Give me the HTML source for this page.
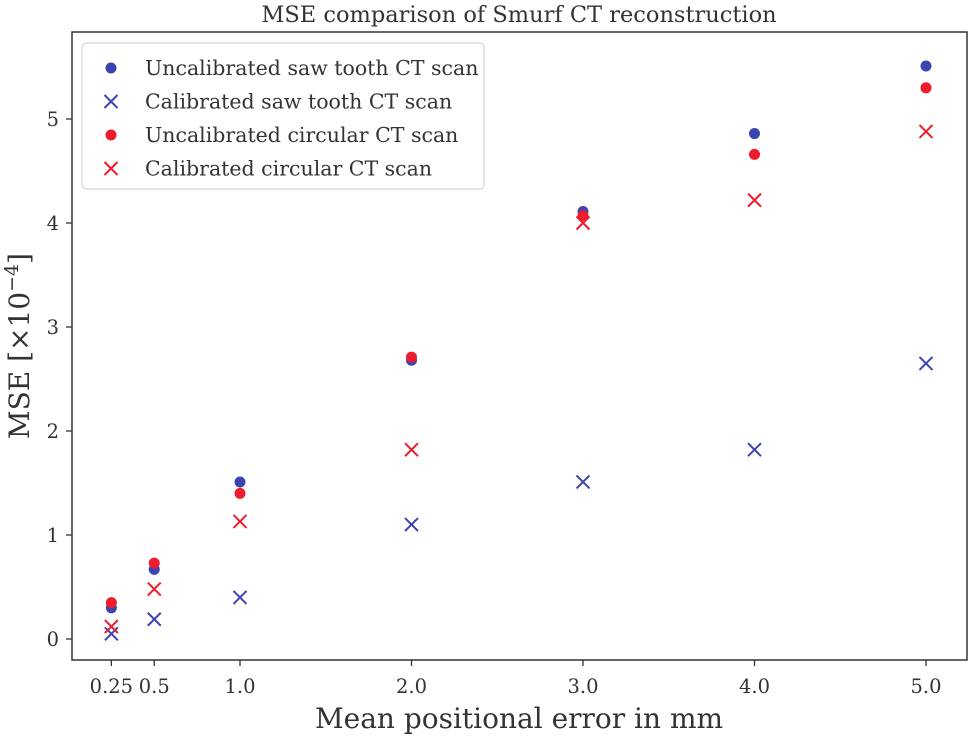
<!DOCTYPE html>
<html><head><meta charset="utf-8"><style>
body{margin:0;background:#fff}
svg text{font-family:"DejaVu Serif","Liberation Serif",serif;fill:#333}
</style></head><body>
<svg id="chart" width="972" height="739" xmlns="http://www.w3.org/2000/svg"></svg>
<script>
const xCategories=[0.25,0.5,1.0,2.0,3.0,4.0,5.0];
const xTickLabels=["0.25","0.5","1.0","2.0","3.0","4.0","5.0"];
const yTicks=[0,1,2,3,4,5];
const uncalSaw=[0.30,0.67,1.51,2.68,4.11,4.86,5.51];
const calSaw=[0.05,0.19,0.40,1.10,1.51,1.82,2.65];
const uncalCirc=[0.35,0.73,1.40,2.71,4.07,4.66,5.30];
const calCirc=[0.12,0.48,1.13,1.82,4.00,4.22,4.88];
const seriesNames=["Uncalibrated saw tooth CT scan","Calibrated saw tooth CT scan","Uncalibrated circular CT scan","Calibrated circular CT scan"];
const BLUE="#3c44b0",RED="#ee1c2c";
const L=72,R=967,T=32,B=660;
const xs=v=>240+(v-1)*171.5;
const ys=v=>639-v*104;
const svg=document.getElementById('chart');
const NS="http://www.w3.org/2000/svg";
function mk(tag,attrs,parent){const e=document.createElementNS(NS,tag);for(const k in attrs)e.setAttribute(k,attrs[k]);(parent||svg).appendChild(e);return e;}
let frame=mk('rect',{x:L,y:T,width:R-L,height:B-T,fill:'none',stroke:'#333','stroke-width':1.5});


let title=mk('text',{x:519,y:22,'text-anchor':'middle','font-size':22.5});
title.textContent="MSE comparison of Smurf CT reconstruction";


xCategories.forEach((v,i)=>{
  const x=xs(v);
  const t=mk('line',{x1:x,x2:x,y1:B,y2:B+6,stroke:'#333','stroke-width':1.3});
  
  
  const l=mk('text',{x:x,y:B+33,'text-anchor':'middle','font-size':19.5});
  l.textContent=xTickLabels[i];
  
  
});
yTicks.forEach(v=>{
  const y=ys(v);
  const t=mk('line',{x1:L-6,x2:L,y1:y,y2:y,stroke:'#333','stroke-width':1.3});
  
  
  const l=mk('text',{x:L-13,y:y+7,'text-anchor':'end','font-size':19.5});
  l.textContent=String(v);
  
  
});
let xt=mk('text',{x:519,y:728,'text-anchor':'middle','font-size':28});
xt.textContent="Mean positional error in mm";


let yt=mk('text',{x:0,y:0,'text-anchor':'middle','font-size':28,transform:'translate(29,346) rotate(-90)'});
yt.innerHTML='MSE [×10<tspan dy="-11" font-size="19">−4</tspan><tspan dy="11">]</tspan>';


function dot(x,y,c,g){const e=mk('circle',{cx:x,cy:y,r:5.5,fill:c},g);}
function cross(x,y,c,g){const s=6.5;const e=mk('path',{d:`M${x-s},${y-s}L${x+s},${y+s}M${x-s},${y+s}L${x+s},${y-s}`,stroke:c,'stroke-width':2,fill:'none'},g);}
const series=[[uncalSaw,BLUE,dot,'series-uncalibrated-saw-tooth'],[calSaw,BLUE,cross,'series-calibrated-saw-tooth'],[uncalCirc,RED,dot,'series-uncalibrated-circular'],[calCirc,RED,cross,'series-calibrated-circular']];
series.forEach(([vals,c,f,n])=>{
  const g=mk('g',{});
  
  
  vals.forEach((v,i)=>f(xs(xCategories[i]),ys(v),c,g));
});
const lg=mk('g',{});


mk('rect',{x:82,y:43,width:402,height:146,rx:4,fill:'#fff',stroke:'#ccc','stroke-width':1},lg);
series.forEach(([vals,c,f,n],i)=>{
  const y=68+i*33.5;
  const e=mk('g',{},lg);
  
  
  f(111,y,c,e);
  const t=mk('text',{x:145,y:y+7,'font-size':20.5},e);
  t.textContent=seriesNames[i];
});
</script>
</body></html>
